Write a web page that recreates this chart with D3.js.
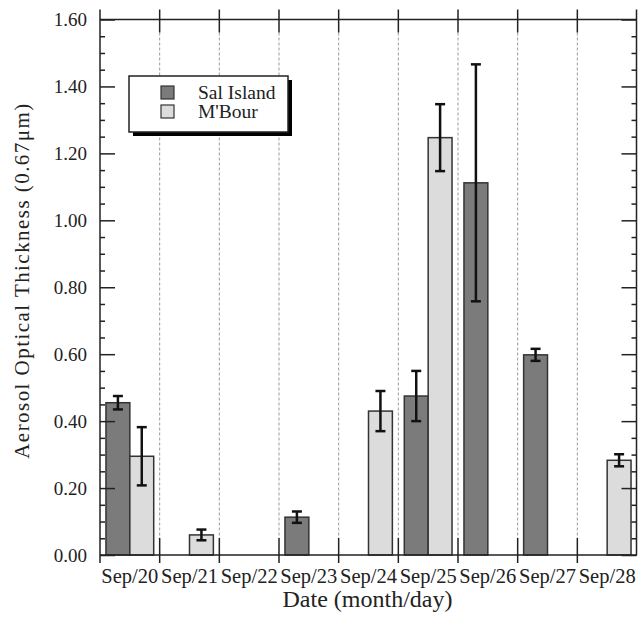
<!DOCTYPE html>
<html>
<head>
<meta charset="utf-8">
<script src="https://cdn.jsdelivr.net/npm/d3@7"></script>
<style>
  body { margin: 0; background: #fff; }
  svg text { font-family: "Liberation Serif", serif; fill: #222; }
</style>
</head>
<body>
<div id="chart"></div>
<script>
// values
const dates = ["Sep/20", "Sep/21", "Sep/22", "Sep/23", "Sep/24", "Sep/25", "Sep/26", "Sep/27", "Sep/28"];
const seriesNames = ["Sal Island", "M'Bour"];
const salValues = [0.455, null, null, 0.113, null, 0.475, 1.112, 0.598, null];
const salErrors = [0.02, null, null, 0.017, null, 0.075, 0.354, 0.018, null];
const mbourValues = [0.295, 0.06, null, null, 0.43, 1.247, null, null, 0.283];
const mbourErrors = [0.087, 0.016, null, null, 0.06, 0.1, null, null, 0.018];
const yTicks = [0, 0.2, 0.4, 0.6, 0.8, 1.0, 1.2, 1.4, 1.6];

const width = 638, height = 621;
const margin = { top: 19.5, right: 1, bottom: 66, left: 100 };
const colors = { "Sal Island": "#7b7b7b", "M'Bour": "#dcdcdc" };

const svg = d3.select("#chart").append("svg")
  .attr("width", width)
  .attr("height", height);

const x = d3.scaleBand()
  .domain(dates)
  .range([margin.left, width - margin.right])
  .padding(0);

const xInner = d3.scaleBand()
  .domain(seriesNames)
  .range([0, x.bandwidth()])
  .paddingInner(0)
  .paddingOuter(0.25);

const y = d3.scaleLinear()
  .domain([0, 1.6])
  .range([height - margin.bottom, margin.top]);

const x0 = margin.left, x1 = width - margin.right;
const yBottom = y(0), yTop = y(1.6);

// long table for the bars
const rows = [];
dates.forEach((d, i) => {
  if (salValues[i] != null) rows.push({ date: d, series: "Sal Island", value: salValues[i], err: salErrors[i] });
  if (mbourValues[i] != null) rows.push({ date: d, series: "M'Bour", value: mbourValues[i], err: mbourErrors[i] });
});

// boundaries between the days
const bounds = dates.map(d => x(d)).concat([x1]);

// dashed grid lines
svg.append("g")
  .selectAll("line")
  .data(bounds.slice(1, -1))
  .join("line")
  .attr("x1", d => d).attr("x2", d => d)
  .attr("y1", yTop + 13).attr("y2", yBottom - 17)
  .attr("stroke", "#9a9a9a")
  .attr("stroke-width", 1)
  .attr("stroke-dasharray", "3,2");

// bars
svg.append("g")
  .selectAll("rect")
  .data(rows)
  .join("rect")
  .attr("x", d => x(d.date) + xInner(d.series))
  .attr("y", d => y(d.value))
  .attr("width", xInner.bandwidth())
  .attr("height", d => yBottom - y(d.value))
  .attr("fill", d => colors[d.series])
  .attr("stroke", "#333")
  .attr("stroke-width", 1.5);

// error bars
const errG = svg.append("g")
  .attr("stroke", "#111")
  .attr("stroke-width", 2.5);
rows.forEach(d => {
  const cx = x(d.date) + xInner(d.series) + xInner.bandwidth() / 2;
  const yHi = y(d.value + d.err), yLo = y(d.value - d.err);
  errG.append("line").attr("x1", cx).attr("x2", cx).attr("y1", yHi).attr("y2", yLo);
  errG.append("line").attr("x1", cx - 5).attr("x2", cx + 5).attr("y1", yHi).attr("y2", yHi);
  errG.append("line").attr("x1", cx - 5).attr("x2", cx + 5).attr("y1", yLo).attr("y2", yLo);
});

// frame
const frame = svg.append("g").attr("stroke", "#222").attr("stroke-width", 1.5);
frame.append("line").attr("x1", x0).attr("x2", x1).attr("y1", yTop).attr("y2", yTop);
frame.append("line").attr("x1", x0).attr("x2", x1).attr("y1", yBottom).attr("y2", yBottom);
frame.append("line").attr("x1", x0).attr("x2", x0).attr("y1", yTop - 10).attr("y2", yBottom + 8);
frame.append("line").attr("x1", x1 - 0.5).attr("x2", x1 - 0.5).attr("y1", yTop - 10).attr("y2", yBottom);

// ticks at the day boundaries, top and bottom
frame.selectAll(".tick-top")
  .data(bounds.slice(1, -1))
  .join("line")
  .attr("class", "tick-top")
  .attr("x1", d => d).attr("x2", d => d)
  .attr("y1", yTop - 10).attr("y2", yTop + 13);
frame.selectAll(".tick-bottom")
  .data(bounds.slice(1, -1))
  .join("line")
  .attr("class", "tick-bottom")
  .attr("x1", d => d).attr("x2", d => d)
  .attr("y1", yBottom - 17).attr("y2", yBottom + 8);

// y axis, left: major and minor ticks pointing inward
const minorTicks = d3.range(0, 1.6001, 0.05).filter(v => Math.abs(Math.round(v / 0.2) * 0.2 - v) > 1e-6);

const yAxisLeft = svg.append("g")
  .attr("transform", `translate(${x0},0)`)
  .call(d3.axisLeft(y).tickValues(yTicks).tickFormat(d3.format(".2f")).tickSizeInner(-15).tickSizeOuter(0).tickPadding(13));
yAxisLeft.select(".domain").remove();
yAxisLeft.selectAll(".tick line").attr("stroke", "#222").attr("stroke-width", 1.5);
yAxisLeft.selectAll(".tick text").style("font-size", "19px").style("font-family", "Liberation Serif, serif").attr("fill", "#222");

const yMinorLeft = svg.append("g")
  .attr("transform", `translate(${x0},0)`)
  .call(d3.axisLeft(y).tickValues(minorTicks).tickFormat("").tickSizeInner(-5).tickSizeOuter(0));
yMinorLeft.select(".domain").remove();
yMinorLeft.selectAll(".tick line").attr("stroke", "#222").attr("stroke-width", 1.5);

// y axis, right: ticks only
const yAxisRight = svg.append("g")
  .attr("transform", `translate(${x1 - 0.5},0)`)
  .call(d3.axisRight(y).tickValues(yTicks).tickFormat("").tickSizeInner(-15).tickSizeOuter(0));
yAxisRight.select(".domain").remove();
yAxisRight.selectAll(".tick line").attr("stroke", "#222").attr("stroke-width", 1.5);

const yMinorRight = svg.append("g")
  .attr("transform", `translate(${x1 - 0.5},0)`)
  .call(d3.axisRight(y).tickValues(minorTicks).tickFormat("").tickSizeInner(-5).tickSizeOuter(0));
yMinorRight.select(".domain").remove();
yMinorRight.selectAll(".tick line").attr("stroke", "#222").attr("stroke-width", 1.5);

// x axis labels, centred in each day
const xAxis = svg.append("g")
  .attr("transform", `translate(0,${yBottom})`)
  .call(d3.axisBottom(x).tickSize(0).tickPadding(13));
xAxis.select(".domain").remove();
xAxis.selectAll(".tick text")
  .style("font-size", "20.5px")
  .style("font-family", "Liberation Serif, serif")
  .attr("fill", "#222");

// axis titles
svg.append("text")
  .attr("x", (x0 + x1) / 2 - 1)
  .attr("y", 607)
  .attr("text-anchor", "middle")
  .style("font-size", "24px")
  .text("Date (month/day)");

svg.append("text")
  .attr("transform", `translate(29,${(yTop + yBottom) / 2 - 6}) rotate(-90)`)
  .attr("text-anchor", "middle")
  .attr("textLength", 355)
  .attr("lengthAdjust", "spacing")
  .style("font-size", "21px")
  .text("Aerosol Optical Thickness (0.67\u03bcm)");

// legend
const legend = svg.append("g").attr("transform", "translate(129,76)");
legend.append("rect")
  .attr("x", 4).attr("y", 4)
  .attr("width", 159).attr("height", 56)
  .attr("fill", "#000");
legend.append("rect")
  .attr("width", 159).attr("height", 56)
  .attr("fill", "#fff")
  .attr("stroke", "#222")
  .attr("stroke-width", 1.5);
const items = legend.selectAll(".item")
  .data(seriesNames)
  .join("g")
  .attr("class", "item")
  .attr("transform", (d, i) => `translate(0,${10 + i * 19})`);
items.append("rect")
  .attr("x", 32).attr("width", 13).attr("height", 13)
  .attr("fill", d => colors[d])
  .attr("stroke", "#333")
  .attr("stroke-width", 1.2);
items.append("text")
  .attr("x", 69).attr("y", 13)
  .style("font-size", "19.5px")
  .text(d => d);
</script>
</body>
</html>
